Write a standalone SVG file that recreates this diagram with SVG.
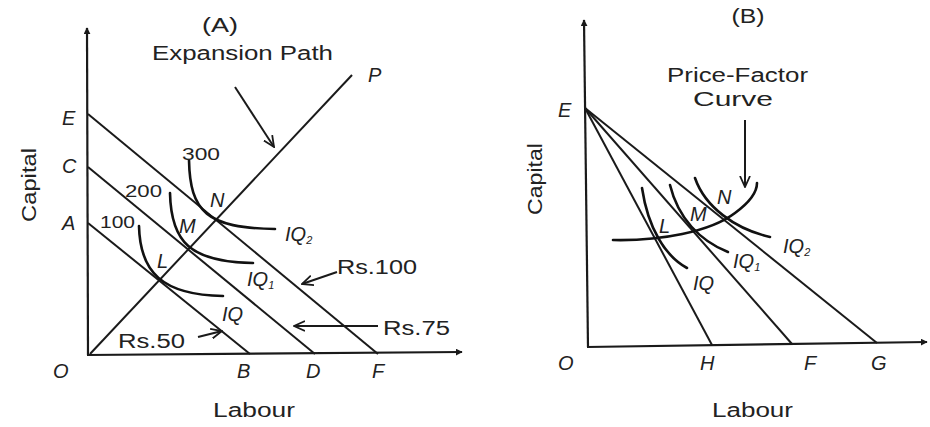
<svg xmlns="http://www.w3.org/2000/svg" width="930" height="427" viewBox="0 0 930 427">
<defs>
<style>
.ln{stroke:#1a1a1a;stroke-width:2;fill:none}
.cv{stroke:#111;stroke-width:2.6;fill:none;stroke-linecap:round}
.ax{stroke:#1a1a1a;stroke-width:2.2;fill:none}
.t{font-family:"Liberation Sans",Arial,sans-serif;fill:#222}
.lb{font-size:20px}
.it{font-family:"Liberation Sans",Arial,sans-serif;font-style:italic;font-size:20px;fill:#222}
.num{font-family:"Liberation Sans",Arial,sans-serif;font-size:17px;fill:#222}
.sub{font-size:11px}
</style>
<marker id="tri" viewBox="0 0 10 10" refX="9" refY="5" markerWidth="7" markerHeight="7" orient="auto" markerUnits="userSpaceOnUse">
<path d="M0,0 L10,5 L0,10 Z" fill="#1a1a1a"/>
</marker>
<marker id="vee" viewBox="0 0 12 12" refX="11" refY="6" markerWidth="12" markerHeight="12" orient="auto" markerUnits="userSpaceOnUse">
<path d="M0,1 L11,6 L0,11" fill="none" stroke="#1a1a1a" stroke-width="1.8"/>
</marker>
</defs>
<rect width="930" height="427" fill="#fff"/>

<g id="panelA">
  <g id="axesA">
    <line class="ax" x1="88" y1="355" x2="87" y2="28" marker-end="url(#tri)"/>
    <line class="ax" x1="87" y1="355" x2="462" y2="352" marker-end="url(#tri)"/>
  </g>
  <g id="connectorsA">
    <line class="ln" x1="88" y1="223" x2="250" y2="354"/>
    <line class="ln" x1="88" y1="167" x2="315" y2="354"/>
    <line class="ln" x1="88" y1="114" x2="378" y2="354"/>
    <line class="ln" x1="90" y1="354" x2="352" y2="75"/>
    <line class="ln" x1="235" y1="87" x2="274" y2="147" marker-end="url(#vee)"/>
    <line class="ln" x1="337" y1="272" x2="302" y2="284" marker-end="url(#vee)"/>
    <line class="ln" x1="378" y1="326" x2="294" y2="326" marker-end="url(#vee)"/>
    <line class="ln" x1="198" y1="337" x2="222" y2="331" marker-end="url(#vee)"/>
  </g>
  <g id="isoquantsA">
    <path class="cv" d="M189,160 C190,212 207,228 275,229"/>
    <path class="cv" d="M170,193 C171,242 190,262 253,263"/>
    <path class="cv" d="M139,226 C140,272 162,295 223,296"/>
  </g>
  <g id="labelsA">
    <text class="t lb" x="220" y="32" text-anchor="middle" textLength="36" lengthAdjust="spacingAndGlyphs">(A)</text>
    <text class="t lb" x="152" y="60" textLength="181" lengthAdjust="spacingAndGlyphs">Expansion Path</text>
    <text class="t lb" transform="translate(36,222) rotate(-90)" textLength="74" lengthAdjust="spacingAndGlyphs">Capital</text>
    <text class="t lb" x="213" y="417" textLength="82" lengthAdjust="spacingAndGlyphs">Labour</text>
    <text class="it" x="62" y="125">E</text>
    <text class="it" x="62" y="173">C</text>
    <text class="it" x="62" y="230">A</text>
    <text class="it" x="53" y="378">O</text>
    <text class="it" x="237" y="378">B</text>
    <text class="it" x="306" y="378">D</text>
    <text class="it" x="372" y="378">F</text>
    <text class="it" x="368" y="82">P</text>
    <text class="it" x="210" y="207">N</text>
    <text class="it" x="179" y="233">M</text>
    <text class="it" x="157" y="268">L</text>
    <text class="num" x="182" y="160" textLength="38" lengthAdjust="spacingAndGlyphs">300</text>
    <text class="num" x="125" y="197" textLength="37" lengthAdjust="spacingAndGlyphs">200</text>
    <text class="num" x="100" y="228" textLength="35" lengthAdjust="spacingAndGlyphs">100</text>
    <text class="it" x="285" y="241">IQ<tspan class="sub" dy="3">2</tspan></text>
    <text class="it" x="247" y="286">IQ<tspan class="sub" dy="3">1</tspan></text>
    <text class="it" x="222" y="321">IQ</text>
    <text class="t lb" x="337" y="274" textLength="80" lengthAdjust="spacingAndGlyphs">Rs.100</text>
    <text class="t lb" x="383" y="335" textLength="67" lengthAdjust="spacingAndGlyphs">Rs.75</text>
    <text class="t lb" x="118" y="348" textLength="67" lengthAdjust="spacingAndGlyphs">Rs.50</text>
  </g>
</g>

<g id="panelB">
  <g id="axesB">
    <line class="ax" x1="588" y1="347" x2="584" y2="20" marker-end="url(#tri)"/>
    <line class="ax" x1="587" y1="347" x2="927" y2="342" marker-end="url(#tri)"/>
  </g>
  <g id="connectorsB">
    <line class="ln" x1="585" y1="108" x2="712" y2="345"/>
    <line class="ln" x1="585" y1="108" x2="792" y2="344"/>
    <line class="ln" x1="585" y1="108" x2="877" y2="343"/>
    <line class="ln" x1="745" y1="120" x2="745" y2="187" marker-end="url(#vee)"/>
  </g>
  <g id="isoquantsB">
    <path class="cv" d="M642,188 C648,228 665,256 687,268"/>
    <path class="cv" d="M670,185 C678,218 700,241 728,252"/>
    <path class="cv" d="M695,178 C705,207 735,229 770,237"/>
    <path class="cv" d="M613,240 C660,241 710,232 735,213 C750,202 757,193 757,183"/>
  </g>
  <g id="labelsB">
    <text class="t lb" x="748" y="23" text-anchor="middle" textLength="33" lengthAdjust="spacingAndGlyphs">(B)</text>
    <text class="t lb" x="667" y="82" textLength="141" lengthAdjust="spacingAndGlyphs">Price-Factor</text>
    <text class="t lb" x="693" y="106" textLength="80" lengthAdjust="spacingAndGlyphs">Curve</text>
    <text class="t lb" transform="translate(542,215) rotate(-90)" textLength="72" lengthAdjust="spacingAndGlyphs">Capital</text>
    <text class="t lb" x="712" y="417" textLength="81" lengthAdjust="spacingAndGlyphs">Labour</text>
    <text class="it" x="558" y="117">E</text>
    <text class="it" x="558" y="370">O</text>
    <text class="it" x="700" y="370">H</text>
    <text class="it" x="804" y="370">F</text>
    <text class="it" x="871" y="370">G</text>
    <text class="it" x="659" y="233">L</text>
    <text class="it" x="690" y="221">M</text>
    <text class="it" x="717" y="204">N</text>
    <text class="it" x="693" y="290">IQ</text>
    <text class="it" x="733" y="268">IQ<tspan class="sub" dy="3">1</tspan></text>
    <text class="it" x="783" y="253">IQ<tspan class="sub" dy="3">2</tspan></text>
  </g>
</g>
</svg>
